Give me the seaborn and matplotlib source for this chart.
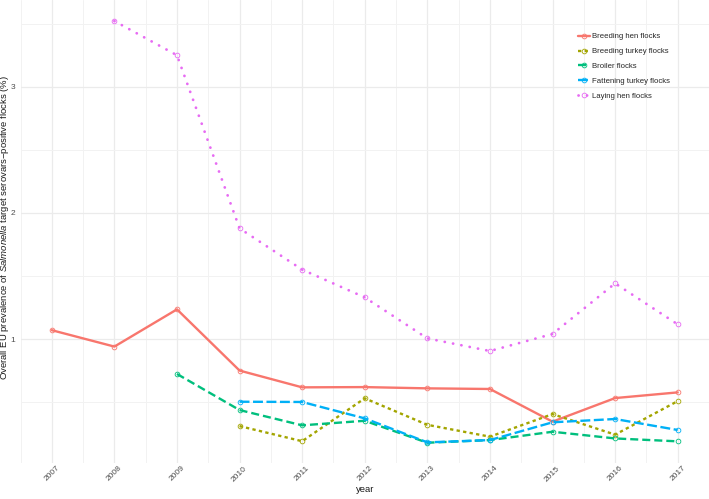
import numpy as np
import pandas as pd
import matplotlib
matplotlib.use("Agg")
import matplotlib.pyplot as plt
import seaborn as sns

nan = np.nan
years = list(range(2007, 2018))
flocks = ["Breeding hen flocks", "Breeding turkey flocks", "Broiler flocks",
          "Fattening turkey flocks", "Laying hen flocks"]

breeding_hen = [1.07, 0.94, 1.235, 0.75, 0.617, 0.619, 0.609, 0.604, 0.345, 0.532, 0.577]
breeding_turkey = [nan, nan, nan, 0.31, 0.19, 0.53, 0.32, 0.226, 0.405, 0.242, 0.508]
broiler = [nan, nan, 0.723, 0.437, 0.316, 0.352, 0.178, 0.199, 0.265, 0.212, 0.189]
fattening_turkey = [nan, nan, nan, 0.503, 0.501, 0.371, 0.181, 0.199, 0.34, 0.366, 0.279]
laying_hen = [nan, 3.52, 3.249, 1.877, 1.55, 1.33, 1.005, 0.905, 1.04, 1.441, 1.116]

colors = ["#F8766D", "#A3A500", "#00BF7D", "#00B0F6", "#E76BF3"]
dash_styles = ["", (1.4, 1.4), (3.4, 1.7), (4.2, 1.5), (0.05, 3.0)]

# long format table for seaborn
series = [breeding_hen, breeding_turkey, broiler, fattening_turkey, laying_hen]
rows = []
for name, vals in zip(flocks, series):
    for yr, v in zip(years, vals):
        rows.append({"year": yr, "value": v, "flock": name})
df = pd.DataFrame(rows).dropna()

sns.set_style("white")
plt.rcParams["font.family"] = ["Liberation Sans", "DejaVu Sans"]
plt.rcParams["mathtext.fontset"] = "custom"
plt.rcParams["mathtext.rm"] = "Liberation Sans"
plt.rcParams["mathtext.it"] = "Liberation Sans:italic"

fig = plt.figure(figsize=(7.09, 4.99), dpi=100)
ax = fig.add_axes([20.5 / 709, 1 - 463.3 / 499, 1 - 20.5 / 709, 463.3 / 499])

sns.lineplot(data=df, x="year", y="value", hue="flock", style="flock",
             hue_order=flocks, style_order=flocks,
             palette=dict(zip(flocks, colors)),
             dashes=dict(zip(flocks, dash_styles)),
             markers=dict(zip(flocks, ["o"] * 5)),
             linewidth=1.7, legend=False, ax=ax)

for ln in ax.lines:
    c = ln.get_color()
    ln.set_markerfacecolor("none")
    ln.set_markeredgecolor(c)
    ln.set_markeredgewidth(0.6)
    ln.set_markersize(3.4)
ax.lines[4].set_dash_capstyle("round")
ax.lines[4].set_linewidth(2.0)

ax.set_xlim(2006.5, 2017.5)
ax.set_ylim(0.015, 3.687)
ax.set_xticks(years)
ax.set_xticks([y + 0.5 for y in years[:-1]] + [2006.5], minor=True)
ax.set_yticks([1, 2, 3])
ax.set_yticks([0.5, 1.5, 2.5, 3.5], minor=True)
ax.set_yticklabels(["1", "2", "3"])
ax.set_xticklabels([str(y) for y in years])
ax.grid(which="major", color="#EBEBEB", linewidth=0.9)
ax.grid(which="minor", color="#F2F2F2", linewidth=0.7)
ax.tick_params(which="both", length=0, labelsize=6, labelcolor="#4D4D4D")
ax.tick_params(axis="x", labelrotation=45, pad=1)
ax.tick_params(axis="y", pad=4)
for sp in ax.spines.values():
    sp.set_visible(False)
ax.set_xlabel("")
ax.set_ylabel("")

fig.text(5 / 709, 1 - 228 / 499,
         "Overall EU prevalence of $\\mathit{Salmonella}$ target serovars\u2212positive flocks (%)",
         rotation=90, ha="center", va="center", fontsize=6.8, color="#1A1A1A")
fig.text(365 / 709, 1 - 490 / 499, "year", ha="center", va="center",
         fontsize=6.8, color="#1A1A1A")

ax.legend(ax.lines[:5], flocks, loc="upper left",
          bbox_to_anchor=(578 / 709, 1 - 33 / 499), bbox_transform=fig.transFigure,
          frameon=False, fontsize=5.6, handlelength=1.5, handletextpad=0.25,
          labelspacing=0.95, borderpad=0, borderaxespad=0)

fig.savefig("out.png", dpi=100, facecolor="white")
